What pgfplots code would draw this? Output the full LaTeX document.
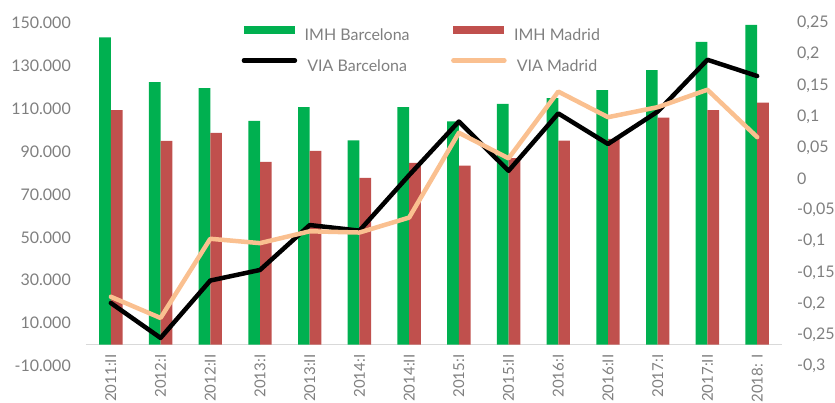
\documentclass[border=0pt]{standalone}
\usepackage{pgfplots}
\pgfplotsset{compat=1.18}
\usepackage{fontspec}
\setmainfont{Lato}
\definecolor{imhgreen}{HTML}{00B050}
\definecolor{imhred}{HTML}{C0504D}
\definecolor{viaorange}{HTML}{FAC090}
\definecolor{textgray}{HTML}{7F7F7F}
\definecolor{axisgray}{HTML}{D9D9D9}

% cat: 0 = 2011:II ... 13 = 2018:I
\pgfplotstableread{
x imhb   imhm   viab   viam
0  143300 109400 -0.199 -0.189
1  122400 95000  -0.255 -0.223
2  119600 98800  -0.163 -0.096
3  104300 85200  -0.146 -0.103
4  110800 90300  -0.074 -0.084
5  95300  77800  -0.083 -0.086
6  110800 84700  0.006  -0.062
7  104100 83500  0.092  0.074
8  112300 87000  0.013  0.033
9  115000 95100  0.105  0.140
10 118700 96000  0.056  0.099
11 128000 105800 0.108  0.115
12 141200 109400 0.191  0.143
13 149100 112800 0.165  0.067
}\datatable

\begin{document}
\begin{tikzpicture}
\pgfplotsset{
  every axis/.append style={
    scale only axis, width=696pt, height=343pt,
    xmin=-0.5, xmax=13.5,
    major tick length=0pt,
    scaled y ticks=false,
    tick label style={font=\fontsize{16}{19}\selectfont, text=textgray},
  }
}
% bars, left axis
\begin{axis}[
  ymin=-10000, ymax=150000,
  axis x line*=middle, axis y line*=left,
  x axis line style={-, draw=axisgray, line width=1.3pt},
  y axis line style={draw=none},
  xtick={0,...,13},
  xticklabels={2011:II,2012:I,2012:II,2013:I,2013:II,2014:I,2014:II,2015:I,2015:II,2016:I,2016:II,2017:I,2017:II,2018: I},
  xticklabel style={rotate=90, anchor=east, inner sep=0pt, xshift=-10pt, font=\fontsize{15}{18}\selectfont},
  ytick={-10000,10000,30000,50000,70000,90000,110000,130000,150000},
  yticklabels={-10.000,10.000,30.000,50.000,70.000,90.000,110.000,130.000,150.000},
  yticklabel style={anchor=east, inner sep=0pt, xshift=-15pt},
]
\addplot[ybar, bar width=11.7pt, bar shift=-5.85pt, fill=imhgreen, draw=none] table[x=x, y=imhb] {\datatable};
\addplot[ybar, bar width=11.7pt, bar shift=5.85pt, fill=imhred, draw=none] table[x=x, y=imhm] {\datatable};
\end{axis}
% lines, right axis
\begin{axis}[
  ymin=-0.3, ymax=0.25,
  axis x line=none, axis y line*=right,
  y axis line style={draw=none},
  ytick={-0.3,-0.25,-0.2,-0.15,-0.1,-0.05,0,0.05,0.1,0.15,0.2,0.25},
  yticklabels={{-0,3},{-0,25},{-0,2},{-0,15},{-0,1},{-0,05},{0},{0,05},{0,1},{0,15},{0,2},{0,25}},
  yticklabel style={anchor=west, inner sep=0pt, xshift=15pt},
  legend columns=2,
  legend image code/.code={\draw[#1] (0pt,5.5pt) -- (51pt,5.5pt);},
  legend style={
    at={(0.2215,0.99)}, anchor=north west,
    draw=none, fill=none, inner sep=0pt, outer sep=0pt,
    font=\fontsize{16}{19}\selectfont, text=textgray,
    nodes={inner sep=0pt},
    row sep=16pt,
    /tikz/column 1/.style={column sep=6pt},
    /tikz/column 2/.style={column sep=40pt},
    /tikz/column 3/.style={column sep=6pt},
  },
]
\addlegendimage{imhgreen, line width=7.5pt, line cap=butt}
\addlegendentry{IMH Barcelona}
\addlegendimage{imhred, line width=7.5pt, line cap=butt}
\addlegendentry{IMH Madrid}
\addplot[black, line width=4.5pt, line join=round, line cap=round, mark=none] table[x=x, y=viab] {\datatable};
\addlegendentry{VIA Barcelona}
\addplot[viaorange, line width=4.5pt, line join=round, line cap=round, mark=none] table[x=x, y=viam] {\datatable};
\addlegendentry{VIA Madrid}
\end{axis}
\pgfresetboundingbox
\useasboundingbox (-86pt,-37pt) rectangle (749pt,366pt);
\end{tikzpicture}
\end{document}
